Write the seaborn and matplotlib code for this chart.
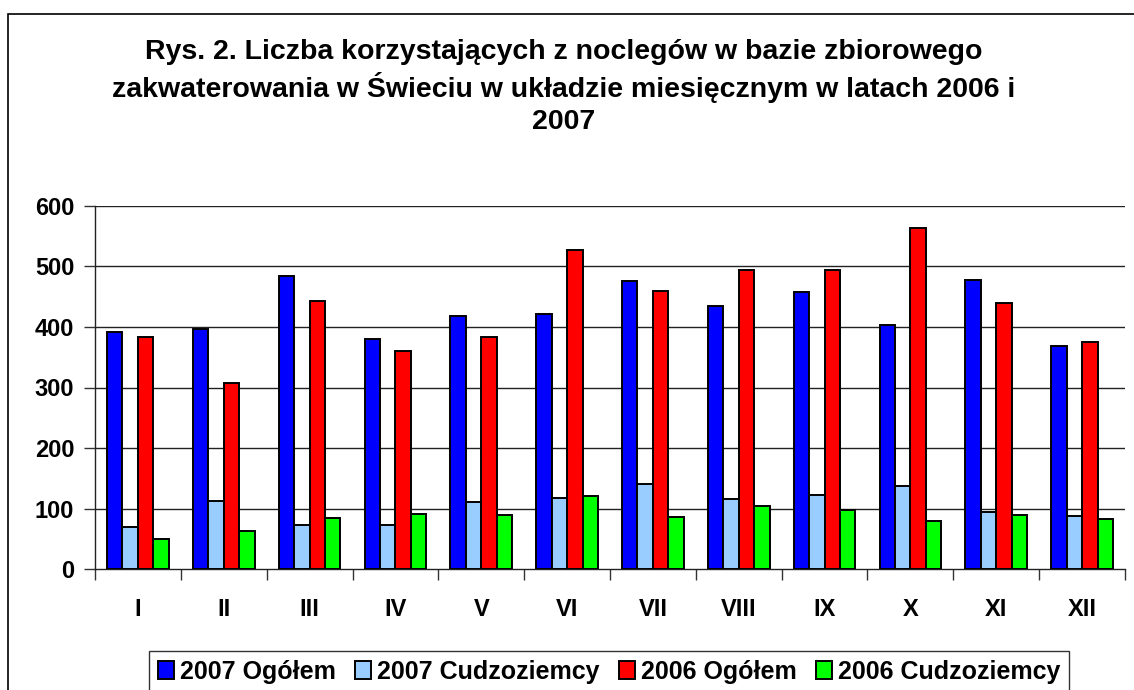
import pandas as pd
import seaborn as sns
import matplotlib.pyplot as plt
from matplotlib.patches import Patch, Rectangle

months = ["I", "II", "III", "IV", "V", "VI", "VII", "VIII", "IX", "X", "XI", "XII"]
series = ["2007 Ogółem", "2007 Cudzoziemcy", "2006 Ogółem", "2006 Cudzoziemcy"]
ogolem_2007 = [391, 396, 485, 380, 419, 421, 476, 434, 458, 404, 478, 369]
cudzoziemcy_2007 = [70, 113, 72, 72, 111, 117, 140, 115, 123, 138, 95, 88]
ogolem_2006 = [384, 308, 443, 360, 383, 527, 459, 495, 494, 564, 439, 375]
cudzoziemcy_2006 = [50, 63, 84, 91, 90, 121, 86, 104, 97, 79, 89, 82]
colors = ["#0000FF", "#99CCFF", "#FF0000", "#00FF00"]

values = [ogolem_2007, cudzoziemcy_2007, ogolem_2006, cudzoziemcy_2006]
rows = []
for s, vals in zip(series, values):
    for m, v in zip(months, vals):
        rows.append({"Miesiąc": m, "Seria": s, "Liczba": v})
df = pd.DataFrame(rows)

sns.set_style("white")
plt.rcParams["font.family"] = ["Liberation Sans", "DejaVu Sans"]
plt.rcParams["font.weight"] = "bold"
plt.rcParams["text.color"] = "black"
plt.rcParams["xtick.color"] = "black"
plt.rcParams["ytick.color"] = "black"

fig = plt.figure(figsize=(11.34, 6.9), dpi=100)
ax = fig.add_axes([95 / 1134, 1 - 569 / 690, (1125 - 95) / 1134, (569 - 206) / 690])

sns.barplot(data=df, x="Miesiąc", y="Liczba", hue="Seria", order=months,
            hue_order=series, palette=dict(zip(series, colors)), saturation=1,
            width=0.72, gap=0, edgecolor="black", linewidth=1.4,
            legend=False, ax=ax, zorder=3)

ax.set_ylim(0, 600)
ax.set_xlim(-0.5, 11.5)
ax.set_yticks(range(0, 601, 100))
ax.set_yticklabels([str(v) for v in range(0, 601, 100)], fontsize=17, fontweight="bold")
ax.tick_params(axis="y", length=8, width=1, color="#333333", pad=7, left=True)
ax.set_xticks(range(12))
ax.set_xticklabels(months, fontsize=17, fontweight="bold")
ax.tick_params(axis="x", which="major", length=0, pad=21)
ax.set_xticks([i - 0.5 for i in range(13)], minor=True)
ax.tick_params(axis="x", which="minor", length=8, width=1, color="#333333", bottom=True)
ax.set_xlabel("")
ax.set_ylabel("")

for y in range(100, 601, 100):
    ax.axhline(y, color="#222222", linewidth=1, zorder=1)

for side in ["top", "right"]:
    ax.spines[side].set_visible(False)
for side in ["left", "bottom"]:
    ax.spines[side].set_color("#222222")
    ax.spines[side].set_linewidth(1)

fig.text(0.497, 1 - 87 / 690,
         "Rys. 2. Liczba korzystających z noclegów w bazie zbiorowego\n"
         "zakwaterowania w Świeciu w układzie miesięcznym w latach 2006 i\n2007",
         ha="center", va="center", fontsize=20.5, fontweight="bold", linespacing=1.31)

handles = [Patch(facecolor=c, edgecolor="black", linewidth=1.4) for c in colors]
leg = fig.legend(handles, series, loc="upper center", bbox_to_anchor=(609 / 1134, 1 - 651 / 690),
                 ncol=4, frameon=True, fancybox=False, edgecolor="black", borderaxespad=0,
                 prop={"size": 18, "weight": "bold"}, handlelength=0.65, handleheight=0.7,
                 handletextpad=0.25, columnspacing=0.75, borderpad=0.35)
leg.get_frame().set_linewidth(1)

fig.patches.append(Rectangle((8 / 1134, -0.1), 1.2, 1.1 - 14 / 690,
                             transform=fig.transFigure, fill=False, edgecolor="black",
                             linewidth=1.2, clip_on=False))

fig.savefig("out.png", dpi=100)
